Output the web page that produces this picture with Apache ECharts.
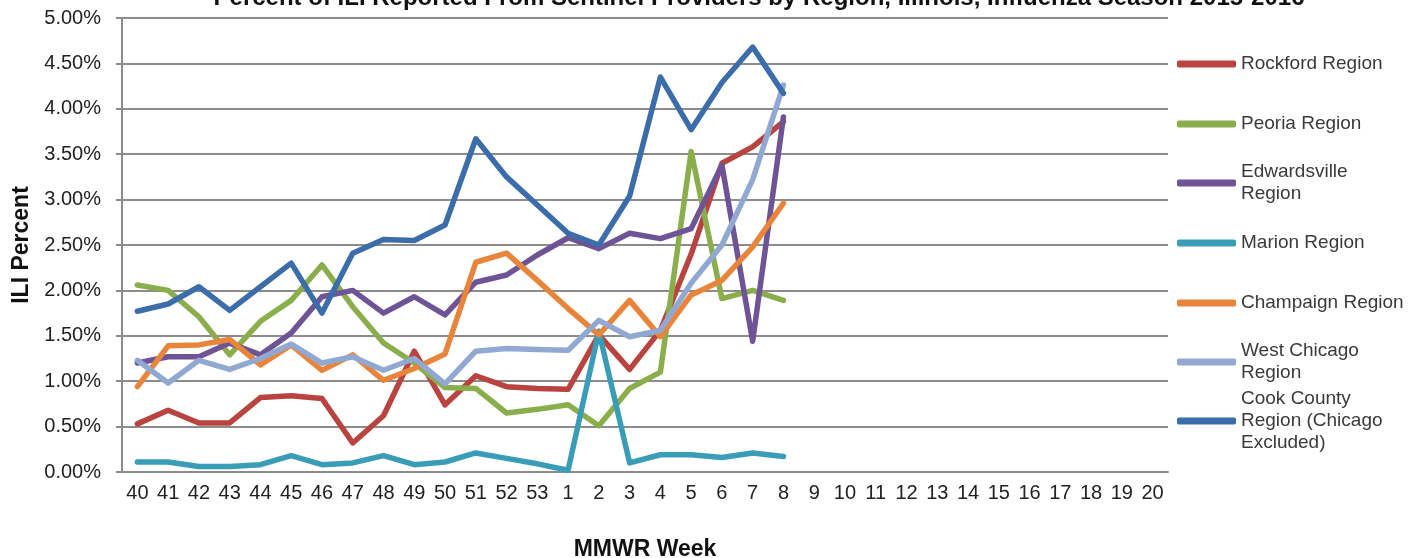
<!DOCTYPE html>
<html>
<head>
<meta charset="utf-8">
<script src="https://cdn.jsdelivr.net/npm/echarts@6/dist/echarts.min.js"></script>
<style>
html, body { margin: 0; padding: 0; background: #fff; }
#chart { width: 1416px; height: 558px; }
</style>
</head>
<body>
<div id="chart"></div>
<script>
// MMWR weeks of the 2015-2016 season (data stops at week 8)
var weeks = ['40','41','42','43','44','45','46','47','48','49','50','51','52','53',
	'1','2','3','4','5','6','7','8','9','10','11','12','13','14','15','16','17','18','19','20'];

// ILI percent by region
var rockford     = [0.53,0.68,0.54,0.54,0.82,0.84,0.81,0.32,0.62,1.33,0.74,1.06,0.94,0.92,0.91,1.51,1.13,1.56,2.40,3.40,3.58,3.86];
var peoria       = [2.06,2.00,1.71,1.29,1.66,1.89,2.28,1.82,1.42,1.20,0.93,0.92,0.65,0.69,0.74,0.51,0.92,1.10,3.53,1.91,2.00,1.89];
var edwardsville = [1.20,1.27,1.27,1.42,1.29,1.53,1.93,2.00,1.75,1.93,1.73,2.09,2.17,2.39,2.58,2.46,2.63,2.57,2.68,3.38,1.44,3.91];
var marion       = [0.11,0.11,0.06,0.06,0.08,0.18,0.08,0.10,0.18,0.08,0.11,0.21,0.15,0.09,0.02,1.55,0.10,0.19,0.19,0.16,0.21,0.17];
var champaign    = [0.94,1.39,1.40,1.46,1.18,1.40,1.12,1.29,1.01,1.14,1.30,2.31,2.41,2.11,1.80,1.51,1.89,1.49,1.95,2.11,2.48,2.96];
var westChicago  = [1.23,0.98,1.23,1.13,1.25,1.41,1.20,1.27,1.12,1.25,0.97,1.33,1.36,1.35,1.34,1.67,1.49,1.56,2.08,2.50,3.22,4.26];
var cookCounty   = [1.77,1.85,2.04,1.78,2.04,2.30,1.75,2.41,2.56,2.55,2.72,3.67,3.25,2.94,2.63,2.50,3.04,4.35,3.77,4.29,4.68,4.17];

var seriesNames = ['Rockford Region','Peoria Region','Edwardsville Region','Marion Region',
	'Champaign Region','West Chicago Region','Cook County Region (Chicago Excluded)'];
var legendLabels = ['Rockford Region','Peoria Region','Edwardsville\nRegion','Marion Region',
	'Champaign Region','West Chicago\nRegion','Cook County\nRegion (Chicago\nExcluded)'];
var seriesData = [rockford, peoria, edwardsville, marion, champaign, westChicago, cookCounty];
var colors = ['#B9433F','#8AAE4B','#6F5397','#3A9DB8','#E8853A','#91A9D2','#3C6DAB'];

var FONT = 'Liberation Sans, Arial, sans-serif';
var LINE_H = 22;
// y of each legend icon centre
var legendY = [64, 124, 183, 243, 303, 362, 421];

function buildLegends() {
	var arr = [];
	for (var i = 0; i < seriesNames.length; i++) {
		var lines = legendLabels[i].split('\n').length;
		arr.push({
			data: [seriesNames[i]],
			left: 1177,
			// keep the icon level with the first text line
			top: legendY[i] - LINE_H / 2 - (lines - 1) * LINE_H,
			padding: 0,
			icon: 'roundRect',
			itemWidth: 59,
			itemHeight: 7,
			itemGap: 4,
			formatter: (function(label) { return function() { return label; }; })(legendLabels[i]),
			textStyle: {
				fontFamily: FONT,
				fontSize: 19,
				color: '#3a3a3a',
				lineHeight: LINE_H,
				padding: [(lines - 1) * LINE_H, 0, 0, 0]
			}
		});
	}
	return arr;
}

function buildSeries() {
	var arr = [];
	for (var i = 0; i < seriesNames.length; i++) {
		arr.push({
			name: seriesNames[i],
			type: 'line',
			data: seriesData[i],
			symbol: 'none',
			smooth: false,
			lineStyle: { width: 5.5, color: colors[i], cap: 'round', join: 'round' },
			itemStyle: { color: colors[i] }
		});
	}
	return arr;
}

var myChart = echarts.init(document.getElementById('chart'));
var option = {
	animation: false,
	color: colors,
	title: {
		text: 'Percent of ILI Reported From Sentinel Providers by Region, Illinois, Influenza Season 2015-2016',
		left: 759,
		textAlign: 'center',
		top: -14,
		padding: 0,
		textStyle: { fontFamily: FONT, fontSize: 24, fontWeight: 'bold', color: '#111' }
	},
	legend: buildLegends(),
	grid: { left: 122, right: 248, top: 18, bottom: 86, outerBoundsMode: 'none', containLabel: false },
	xAxis: {
		type: 'category',
		data: weeks,
		boundaryGap: true,
		name: 'MMWR Week',
		nameLocation: 'middle',
		nameGap: 66,
		nameTextStyle: { fontFamily: FONT, fontSize: 23, fontWeight: 'bold', color: '#111' },
		axisLine: { lineStyle: { color: '#8c8c8c', width: 2 } },
		axisTick: { length: 6, lineStyle: { color: '#8c8c8c', width: 2 } },
		axisLabel: { interval: 0, margin: 11, fontFamily: FONT, fontSize: 20, color: '#222' },
		splitLine: { show: false }
	},
	yAxis: {
		type: 'value',
		min: 0,
		max: 5,
		interval: 0.5,
		name: 'ILI Percent',
		nameLocation: 'middle',
		nameRotate: 90,
		nameGap: 87,
		nameTextStyle: { fontFamily: FONT, fontSize: 23, fontWeight: 'bold', color: '#111' },
		axisLine: { show: true, lineStyle: { color: '#8c8c8c', width: 2 } },
		axisTick: { show: true, length: 6, lineStyle: { color: '#8c8c8c', width: 2 } },
		axisLabel: {
			margin: 21,
			fontFamily: FONT,
			fontSize: 20,
			color: '#222',
			formatter: function(v) { return v.toFixed(2) + '%'; }
		},
		splitLine: { lineStyle: { color: '#8c8c8c', width: 2 } }
	},
	series: buildSeries()
};
myChart.setOption(option, true);
</script>
</body>
</html>
